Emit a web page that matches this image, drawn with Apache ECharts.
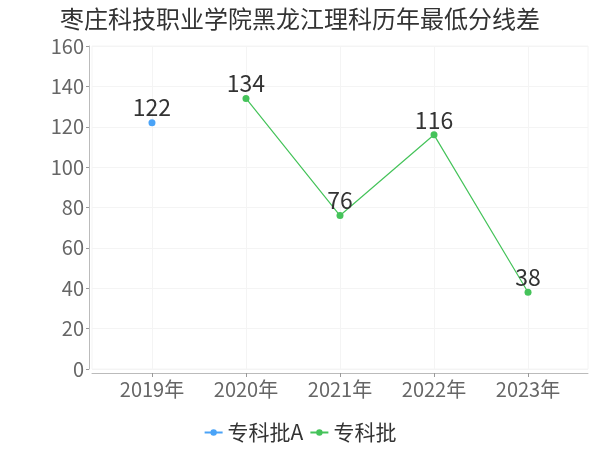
<!DOCTYPE html>
<html><head><meta charset="utf-8">
<script src="https://cdn.jsdelivr.net/npm/echarts@6/dist/echarts.min.js"></script>
<style>html,body{margin:0;padding:0;background:#fff}#c{width:600px;height:450px}</style>
</head><body><div id="c"></div>
<script>
var titleText = '枣庄科技职业学院黑龙江理科历年最低分线差';
var categories = ['2019年','2020年','2021年','2022年','2023年'];
var seriesNames = ['专科批A','专科批'];
var valuesA = [122, null, null, null, null];
var valuesB = [null, 134, 76, 116, 38];
var yTicks = [0,20,40,60,80,100,120,140,160];

function pairs(vals){
  var out = [];
  vals.forEach(function(v,i){ if(v !== null) out.push([i, v]); });
  return out;
}
var idx = categories.map(function(_,i){return i;});
var FF = 'Noto Sans CJK SC, sans-serif';
var chart = echarts.init(document.getElementById('c'));
chart.setOption({
  animation:false,
  backgroundColor:'#fff',
  title:{text:titleText,left:'center',top:2,textStyle:{fontSize:24,fontWeight:'normal',color:'#333',fontFamily:FF}},
  legend:{bottom:2,left:'center',itemGap:6,itemWidth:18,itemHeight:8,
    textStyle:{fontSize:21,color:'#333',fontFamily:FF},
    data:[{name:seriesNames[0]},{name:seriesNames[1]}]},
  grid:{left:92,right:12,top:46,bottom:81,show:true,borderColor:'#f4f4f4',borderWidth:1},
  xAxis:{type:'value',min:-0.638,max:4.638,offset:4,
    axisLine:{show:true,onZero:false,lineStyle:{color:'#bbb'}},
    axisTick:{show:true,length:4,customValues:idx,lineStyle:{color:'#999'}},
    axisLabel:{customValues:idx,fontSize:20,color:'#666',fontFamily:FF,margin:6,
      formatter:function(v){return categories[Math.round(v)]||'';}},
    splitLine:{show:true,lineStyle:{color:'#f4f4f4'}}},
  yAxis:{type:'value',min:yTicks[0],max:yTicks[yTicks.length-1],interval:20,offset:3,
    axisLine:{show:true,onZero:false,lineStyle:{color:'#bbb'}},
    axisTick:{show:true,length:3,lineStyle:{color:'#999'}},
    axisLabel:{fontSize:20,color:'#666',fontFamily:FF,margin:5},
    splitLine:{show:true,lineStyle:{color:'#f4f4f4'}}},
  series:[
    {name:seriesNames[0],type:'line',data:pairs(valuesA),symbol:'circle',symbolSize:7,
     itemStyle:{color:'#4aa3f7'},lineStyle:{width:1.2},
     label:{show:true,position:'top',distance:0,fontSize:23,color:'#333',fontFamily:FF}},
    {name:seriesNames[1],type:'line',data:pairs(valuesB),symbol:'circle',symbolSize:7,
     itemStyle:{color:'#45c35a'},lineStyle:{width:1.2},
     label:{show:true,position:'top',distance:0,fontSize:23,color:'#333',fontFamily:FF}}
  ]
});
</script></body></html>
